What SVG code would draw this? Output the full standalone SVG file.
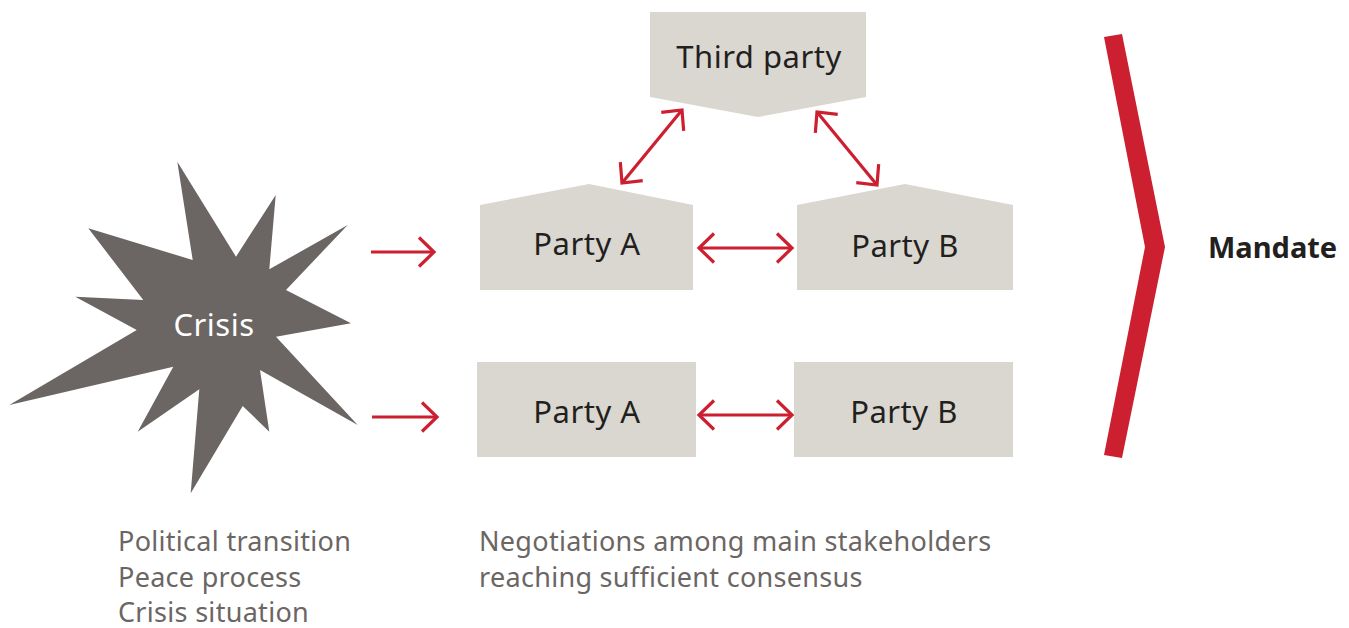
<svg xmlns="http://www.w3.org/2000/svg" width="1349" height="628" viewBox="0 0 1349 628">
<defs>
<style>
.box{fill:#d9d7cf}
.lbl{font-family:"Noto Sans","Open Sans",sans-serif;font-size:31px;letter-spacing:0.5px;fill:#231f20;text-anchor:middle}
.cap{font-family:"Noto Sans","Open Sans",sans-serif;font-size:27px;letter-spacing:0.3px;fill:#6b6663}
.con{stroke:#cc1f30;stroke-width:3.2;fill:none}
</style>
<marker id="ah" viewBox="0 0 20 32" refX="17" refY="16" markerWidth="20" markerHeight="32" markerUnits="userSpaceOnUse" orient="auto-start-reverse">
<path d="M2,1.5 L17,16 L2,30.5" fill="none" stroke="#cc1f30" stroke-width="3.2"/>
</marker>
</defs>
<rect width="1349" height="628" fill="#ffffff"/>
<g id="crisis">
<polygon fill="#6b6663" points="177.3,161.7 236,256.7 275.7,195 269.3,269.3 347.7,225 286,290 351,323.3 276,336.7 357.7,425 260,370 269.3,431.7 242.7,406 190.7,493.3 199.3,389.3 137.7,431.7 173.3,366.7 9.3,405 136.7,330 75.3,296.7 143.3,300 88.3,228.3 192.7,260"/>
<text x="214" y="336" class="lbl" style="fill:#ffffff">Crisis</text>
</g>
<g id="third-party">
<polygon class="box" points="650,12 866,12 866,97 758,117 650,97"/>
<text x="759" y="68" class="lbl">Third party</text>
</g>
<g id="party-a-top">
<polygon class="box" points="480,205 589,184 693,205 693,290 480,290"/>
<text x="587" y="255" class="lbl">Party A</text>
</g>
<g id="party-b-top">
<polygon class="box" points="797,205 905,184 1013,205 1013,290 797,290"/>
<text x="905" y="257" class="lbl">Party B</text>
</g>
<g id="party-a-bottom">
<rect class="box" x="477" y="362" width="219" height="95"/>
<text x="587" y="423" class="lbl">Party A</text>
</g>
<g id="party-b-bottom">
<rect class="box" x="794" y="362" width="219" height="95"/>
<text x="904" y="423" class="lbl">Party B</text>
</g>
<g id="mandate">
<polygon fill="#cc1f30" points="1104,37 1122,34 1165,247 1122,458 1104,455 1145,247"/>
<text x="1208" y="258" style="font-family:'Noto Sans','Open Sans',sans-serif;font-size:29px;font-weight:bold;fill:#231f20">Mandate</text>
</g>
<g id="connectors">
<line class="con" x1="371" y1="252" x2="434" y2="252" marker-end="url(#ah)"/>
<line class="con" x1="372" y1="417" x2="437" y2="417" marker-end="url(#ah)"/>
<line class="con" x1="699" y1="248" x2="792" y2="248" marker-start="url(#ah)" marker-end="url(#ah)"/>
<line class="con" x1="699" y1="415" x2="792" y2="415" marker-start="url(#ah)" marker-end="url(#ah)"/>
<line class="con" x1="622" y1="183" x2="682" y2="110" marker-start="url(#ah)" marker-end="url(#ah)"/>
<line class="con" x1="817" y1="112" x2="877" y2="185" marker-start="url(#ah)" marker-end="url(#ah)"/>
</g>
<g id="captions">
<text class="cap" x="118" y="551">Political transition</text>
<text class="cap" x="118" y="587">Peace process</text>
<text class="cap" x="118" y="622">Crisis situation</text>
<text class="cap" x="479" y="551">Negotiations among main stakeholders</text>
<text class="cap" x="479" y="587">reaching sufficient consensus</text>
</g>
</svg>
